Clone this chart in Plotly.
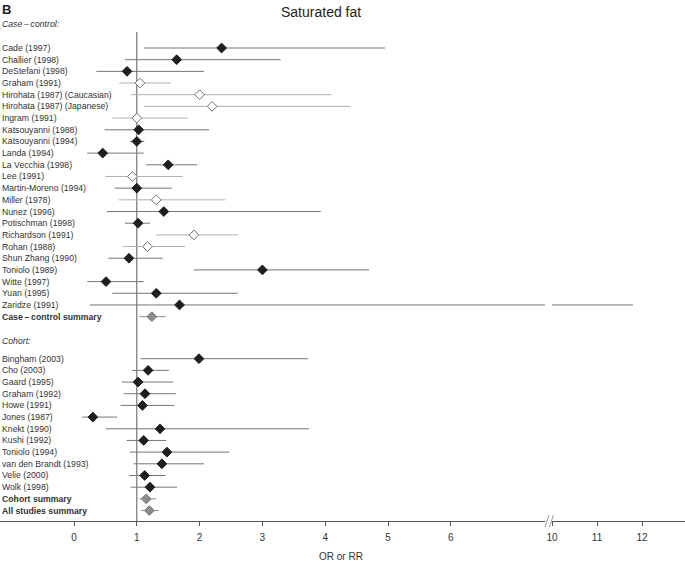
import plotly.graph_objects as go

# ---------------- data ----------------
case_labels = ["Cade (1997)", "Challier (1998)", "DeStefani (1998)", "Graham (1991)",
               "Hirohata (1987) (Caucasian)", "Hirohata (1987) (Japanese)", "Ingram (1991)",
               "Katsouyanni (1988)", "Katsouyanni (1994)", "Landa (1994)", "La Vecchia (1998)",
               "Lee (1991)", "Martin-Moreno (1994)", "Miller (1978)", "Nunez (1996)",
               "Potischman (1998)", "Richardson (1991)", "Rohan (1988)", "Shun Zhang (1990)",
               "Toniolo (1989)", "Witte (1997)", "Yuan (1995)", "Zaridze (1991)"]
case_est = [2.35, 1.635, 0.845, 1.05, 2.0, 2.2, 1.0, 1.03, 1.0, 0.457, 1.5, 0.93, 1.0,
            1.31, 1.43, 1.02, 1.91, 1.17, 0.875, 3.0, 0.51, 1.31, 1.68]
case_lo = [1.115, 0.81, 0.355, 0.72, 0.91, 1.11, 0.61, 0.49, 0.89, 0.21, 1.15, 0.50, 0.65,
           0.71, 0.525, 0.81, 1.31, 0.775, 0.55, 1.905, 0.21, 0.61, 0.255]
case_hi = [4.95, 3.29, 2.07, 1.54, 4.10, 4.40, 1.81, 2.15, 1.12, 1.11, 1.96, 1.73, 1.56,
           2.41, 3.93, 1.21, 2.61, 1.77, 1.41, 4.70, 1.11, 2.61, 11.8]
case_kind = ["f", "f", "f", "o", "o", "o", "o", "f", "f", "f", "f", "o", "f",
             "o", "f", "f", "o", "o", "f", "f", "f", "f", "f"]

cc_summary_label = "Case\u2009\u2013\u2009control summary"
cc_summary = (1.24, 1.04, 1.46)

cohort_labels = ["Bingham (2003)", "Cho (2003)", "Gaard (1995)", "Graham (1992)", "Howe (1991)",
                 "Jones (1987)", "Knekt (1990)", "Kushi (1992)", "Toniolo (1994)",
                 "van den Brandt (1993)", "Velie (2000)", "Wolk (1998)"]
cohort_est = [1.99, 1.18, 1.02, 1.13, 1.09, 0.30, 1.37, 1.11, 1.48, 1.40, 1.125, 1.21]
cohort_lo = [1.06, 0.92, 0.76, 0.79, 0.74, 0.13, 0.51, 0.84, 0.89, 0.95, 0.88, 0.90]
cohort_hi = [3.73, 1.51, 1.58, 1.62, 1.60, 0.685, 3.74, 1.47, 2.47, 2.07, 1.46, 1.64]

summary_labels = ["Cohort summary", "All studies summary"]
summary_est = [1.15, 1.20]
summary_lo = [1.04, 1.07]
summary_hi = [1.31, 1.35]

left_ticks = [0, 1, 2, 3, 4, 5, 6]
right_ticks = [10, 11, 12]

# ---------------- layout of rows ----------------
W, H = 685, 563
MT, MB = 30, 42
row_px = 11.68
first_px = 48.0

rows_y, labels, est, lo, hi, kind, bold = [], [], [], [], [], [], []
for i, lab in enumerate(case_labels):
    rows_y.append(i); labels.append(lab); est.append(case_est[i]); lo.append(case_lo[i])
    hi.append(case_hi[i]); kind.append(case_kind[i]); bold.append(False)
rows_y.append(len(case_labels)); labels.append(cc_summary_label)
est.append(cc_summary[0]); lo.append(cc_summary[1]); hi.append(cc_summary[2])
kind.append("s"); bold.append(True)

cohort_header_y = len(case_labels) + 2.1
cohort_start = len(case_labels) + 3.6
for i, lab in enumerate(cohort_labels):
    rows_y.append(cohort_start + i); labels.append(lab); est.append(cohort_est[i])
    lo.append(cohort_lo[i]); hi.append(cohort_hi[i]); kind.append("f"); bold.append(False)
for i, lab in enumerate(summary_labels):
    rows_y.append(cohort_start + len(cohort_labels) + i); labels.append(lab)
    est.append(summary_est[i]); lo.append(summary_lo[i]); hi.append(summary_hi[i])
    kind.append("s"); bold.append(True)

plot_h = H - MT - MB
y_top = (MT - first_px) / row_px
y_bot = (H - MB - first_px) / row_px

# x scales
px_per_unit_l = 62.8
x0_px = 74.0
left_end_px = 545.0
right_start_px = 552.0
px_per_unit_r = 45.0
xl_range = [-x0_px / px_per_unit_l, (left_end_px - x0_px) / px_per_unit_l]
xr_range = [10.0, 10.0 + (W - right_start_px) / px_per_unit_r]

fig = go.Figure()

line_col = {"f": "#767676", "o": "#b0b0b0", "s": "#8e8e8e"}

def seg_xy(k):
    xs, ys = [], []
    for yy, a, b, kk in zip(rows_y, lo, hi, kind):
        if kk == k:
            xs += [a, b, None]; ys += [yy, yy, None]
    return xs, ys

for k in ["f", "o", "s"]:
    xs, ys = seg_xy(k)
    for xa in ["x", "x2"]:
        fig.add_trace(go.Scatter(x=xs, y=ys, mode="lines", xaxis=xa, yaxis="y",
                                 line=dict(color=line_col[k], width=1),
                                 hoverinfo="skip", showlegend=False))

marker_style = {
    "f": dict(color="#1e1e1e", size=7.5, line=dict(color="#1e1e1e", width=1)),
    "o": dict(color="white", size=7.5, line=dict(color="#707070", width=1)),
    "s": dict(color="#8c8c8c", size=7.5, line=dict(color="#7a7a7a", width=1)),
}
for k in ["f", "o", "s"]:
    xs = [e for e, kk in zip(est, kind) if kk == k]
    ys = [yy for yy, kk in zip(rows_y, kind) if kk == k]
    fig.add_trace(go.Scatter(x=xs, y=ys, mode="markers", xaxis="x", yaxis="y",
                             marker=dict(symbol="diamond", **marker_style[k]),
                             showlegend=False))

ann = []
font_lab = dict(family="Liberation Sans, Arial, sans-serif", size=8.7, color="#333")
for yy, lab, b in zip(rows_y, labels, bold):
    ann.append(dict(x=0.0, xref="paper", y=yy, yref="y", xanchor="left", yanchor="middle",
                    text=f"<b>{lab}</b>" if b else lab, showarrow=False, font=font_lab))
ann.append(dict(x=0.0, xref="paper", y=1 + (MT - 24) / plot_h, yref="paper", xanchor="left",
                yanchor="middle", text="<i>Case\u2009\u2013\u2009control:</i>", showarrow=False,
                font=font_lab))
ann.append(dict(x=0.0, xref="paper", y=cohort_header_y, yref="y", xanchor="left",
                yanchor="middle", text="<i>Cohort:</i>", showarrow=False, font=font_lab))
ann.append(dict(x=321 / W, xref="paper", y=1 + (MT - 12) / plot_h, yref="paper",
                xanchor="center", yanchor="middle", text="Saturated fat", showarrow=False,
                font=dict(family="Liberation Sans, Arial, sans-serif", size=14, color="#222")))
ann.append(dict(x=0.0, xref="paper", y=1 + (MT - 9) / plot_h, yref="paper",
                xanchor="left", yanchor="middle", text="<b>B</b>", showarrow=False,
                font=dict(family="Liberation Sans, Arial, sans-serif", size=13, color="#222")))
ann.append(dict(x=341 / W, xref="paper", y=-(556 - (H - MB)) / plot_h, yref="paper",
                xanchor="center", yanchor="middle", text="OR or RR", showarrow=False,
                font=dict(family="Liberation Sans, Arial, sans-serif", size=10, color="#333")))

shapes = [
    dict(type="line", xref="x", x0=1, x1=1, yref="paper", y0=0, y1=1 - 2 / plot_h,
         line=dict(color="#5a5a5a", width=1), layer="below"),
]
# axis break marks
for bx in [547.0, 551.5]:
    shapes.append(dict(type="line", xref="paper", yref="paper",
                       x0=(bx - 2) / W, x1=(bx + 2) / W,
                       y0=-6 / plot_h, y1=6 / plot_h,
                       line=dict(color="#999", width=1)))

axis_common = dict(showgrid=False, zeroline=False, showline=True, linecolor="#555",
                   linewidth=1, ticks="outside", ticklen=4, tickcolor="#555",
                   tickfont=dict(family="Liberation Sans, Arial, sans-serif", size=10,
                                 color="#333"),
                   ticklabelstandoff=3, anchor="y", automargin=False)

fig.update_layout(
    width=W, height=H,
    margin=dict(l=0, r=0, t=MT, b=MB, pad=0, autoexpand=False),
    paper_bgcolor="white", plot_bgcolor="white",
    xaxis=dict(domain=[0, left_end_px / W], range=xl_range, tickvals=left_ticks,
               ticktext=[str(t) for t in left_ticks], **axis_common),
    xaxis2=dict(domain=[right_start_px / W, 1], range=xr_range, tickvals=right_ticks,
                ticktext=[str(t) for t in right_ticks], **axis_common),
    yaxis=dict(range=[y_bot, y_top], showgrid=False, zeroline=False, showline=False,
               showticklabels=False, ticks="", automargin=False),
    annotations=ann, shapes=shapes,
)

fig.write_html("out.html", config={"displayModeBar": False},
               post_script="document.body.style.margin='0px';")
